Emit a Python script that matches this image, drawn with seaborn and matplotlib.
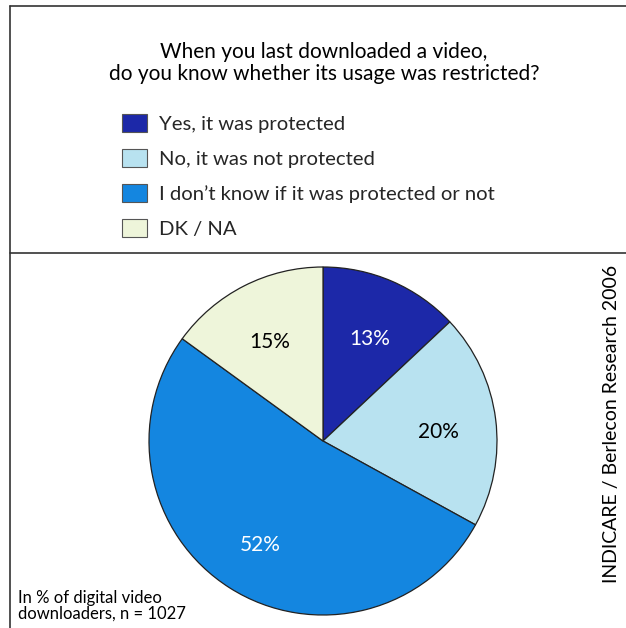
import matplotlib
matplotlib.use("Agg")
import matplotlib.pyplot as plt
from matplotlib.patches import Patch
from matplotlib.lines import Line2D
import seaborn as sns

categories = ["Yes, it was protected", "No, it was not protected",
              "I don\u2019t know if it was protected or not", "DK / NA"]
values = [13, 20, 52, 15]
colors = ["#1c28a8", "#b8e2f0", "#1486e0", "#eef5da"]
label_colors = ["white", "black", "white", "black"]
title = "When you last downloaded a video,\ndo you know whether its usage was restricted?"
source = "INDICARE / Berlecon Research 2006"
footnote = "In % of digital video\ndownloaders, n = 1027"

sns.set_theme(style="white")
plt.rcParams['font.family'] = ['Lato', 'DejaVu Sans']

W, H = 626, 628
fig = plt.figure(figsize=(W / 100, H / 100), dpi=100)
fig.patch.set_facecolor("white")

def fx(x): return x / W
def fy(y): return 1 - y / H

# frame lines
lc = "#333333"
fig.add_artist(Line2D([fx(10), fx(10)], [fy(6), fy(630)], color=lc, lw=1.2))
fig.add_artist(Line2D([fx(10), fx(630)], [fy(6), fy(6)], color=lc, lw=1.2))
fig.add_artist(Line2D([fx(10), fx(630)], [fy(253), fy(253)], color=lc, lw=1.2))

fig.text(fx(324), fy(63), title, ha="center", va="center", fontsize=15,
         linespacing=1.15, color="black")

cx, cy, r = 323, 441, 174
ax = fig.add_axes([fx(cx - r), fy(cy + r), 2 * r / W, 2 * r / H])
wedges, texts, autotexts = ax.pie(
    values, colors=colors, startangle=90, counterclock=False,
    autopct=lambda p: f"{p:.0f}%", pctdistance=0.67,
    wedgeprops=dict(edgecolor="#222222", linewidth=0.9))
for t, c in zip(autotexts, label_colors):
    t.set_color(c)
    t.set_fontsize(15)
    x, y = t.get_position()
    t.set_position((x, y - 0.03))
ax.set_xlim(-1, 1)
ax.set_ylim(-1, 1)
ax.set_aspect("equal")
ax.axis("off")

handles = [Patch(facecolor=c, edgecolor="#555555", linewidth=0.8) for c in colors]
leg = fig.legend(handles, categories, loc="upper left",
                 bbox_to_anchor=(fx(114), fy(106)), frameon=False,
                 fontsize=14.6, handlelength=1.22, handleheight=0.98,
                 handletextpad=0.6, labelspacing=0.8, borderaxespad=0)

fig.text(fx(612), fy(424), source, rotation=90, ha="center", va="center",
         fontsize=14, color="black")
fig.text(fx(18), fy(606), footnote, ha="left", va="center", fontsize=12,
         linespacing=1.0, color="black")

fig.savefig("out.png", dpi=100)
